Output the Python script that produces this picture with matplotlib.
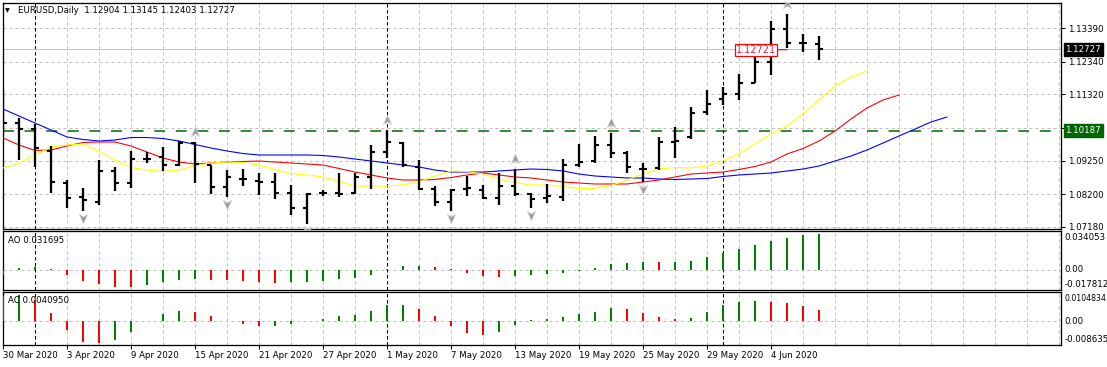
import numpy as np
import pandas as pd
import matplotlib
matplotlib.use("Agg")
import matplotlib.pyplot as plt
import matplotlib.transforms as mtransforms
from matplotlib.path import Path

W, H, DPI = 1107, 367, 100

# ---------------- data ----------------
symbol = "EURUSD,Daily"
dates = pd.bdate_range("2020-03-30", periods=52)

opens = [1.1052, 1.10426, 1.10238, 1.0955, 1.08548, 1.0811, 1.07953, 1.08924, 1.08548, 1.09299,
         1.09362, 1.09111, 1.098, 1.09111, 1.08423, 1.08673, 1.08611, 1.08579, 1.08235, 1.07766,
         1.08235, 1.08235, 1.08235, 1.08736, 1.09518, 1.098, 1.09049, 1.0836, 1.07953, 1.0836,
         1.08329, 1.08079, 1.08454, 1.08204, 1.08079, 1.0811, 1.09111, 1.09237, 1.09737, 1.09487,
         1.08986, 1.09018, 1.09831, 1.09988, 1.1077, 1.11177, 1.11334, 1.11678, 1.12335, 1.13368,
         1.1293, 1.12904]
highs = [1.11459, 1.10583, 1.10395, 1.09706, 1.08642, 1.08392, 1.09268, 1.09049, 1.0955, 1.09518,
         1.09675, 1.09863, 1.09831, 1.09111, 1.08955, 1.08986, 1.08861, 1.08861, 1.08485, 1.08235,
         1.08329, 1.08861, 1.08861, 1.09737, 1.10207, 1.09831, 1.09268, 1.08454, 1.0836, 1.08767,
         1.08485, 1.08861, 1.08986, 1.08235, 1.08517, 1.09299, 1.09769, 1.10019, 1.10113, 1.0955,
         1.09174, 1.09988, 1.10301, 1.10927, 1.11459, 1.11553, 1.1196, 1.12617, 1.13619, 1.13838,
         1.13212, 1.13145]
lows = [1.10113, 1.09268, 1.09049, 1.08235, 1.07766, 1.07672, 1.07859, 1.08298, 1.08392, 1.09174,
        1.08924, 1.0908, 1.08548, 1.08204, 1.0811, 1.08454, 1.08173, 1.08047, 1.07546, 1.07265,
        1.08141, 1.0811, 1.08204, 1.0836, 1.09331, 1.09049, 1.08329, 1.07828, 1.07672, 1.08141,
        1.08047, 1.07859, 1.08141, 1.07766, 1.07922, 1.07985, 1.09049, 1.09174, 1.09331, 1.08861,
        1.08579, 1.08955, 1.09331, 1.09925, 1.10676, 1.10989, 1.11146, 1.11678, 1.11928, 1.12774,
        1.12648, 1.12403]
closes = [1.10426, 1.10238, 1.09644, 1.08579, 1.08079, 1.08016, 1.08924, 1.08548, 1.09299, 1.09299,
          1.09111, 1.098, 1.09143, 1.08423, 1.08736, 1.08673, 1.08579, 1.08235, 1.07766, 1.08204,
          1.08235, 1.08204, 1.08736, 1.09518, 1.09831, 1.09111, 1.0836, 1.07953, 1.08329, 1.08392,
          1.08079, 1.08454, 1.08204, 1.08047, 1.08141, 1.09111, 1.09205, 1.09737, 1.09487, 1.09049,
          1.08986, 1.09831, 1.09863, 1.10739, 1.11021, 1.11334, 1.11678, 1.12335, 1.13368, 1.1293,
          1.1293, 1.12727]

# Alligator lines (extend into the future by their shift)
jaw_blue = [1.10864, 1.10645, 1.10426, 1.10207, 1.09988, 1.0991, 1.09863, 1.09894, 1.09972, 1.09972,
            1.09941, 1.09863, 1.09753, 1.09644, 1.0955, 1.09471, 1.09425, 1.09425, 1.09425, 1.09425,
            1.09409, 1.09362, 1.09299, 1.09237, 1.09174, 1.09112, 1.09049, 1.08955, 1.08892, 1.08892,
            1.08892, 1.08924, 1.08955, 1.08986, 1.08971, 1.08924, 1.0883, 1.08767, 1.08736, 1.08705,
            1.08705, 1.08673, 1.08658, 1.08673, 1.08689, 1.08752, 1.08799, 1.0883, 1.08861, 1.08924,
            1.08986, 1.0908, 1.09237, 1.09393, 1.09581, 1.098, 1.10019, 1.10238, 1.10457, 1.10614]
teeth_red = [1.09957, 1.09738, 1.09565, 1.09581, 1.09706, 1.09816, 1.09831, 1.09831, 1.09706, 1.09518,
             1.09331, 1.09205, 1.09143, 1.09174, 1.09205, 1.09221, 1.09237, 1.09205, 1.09174, 1.09143,
             1.09112, 1.09002, 1.08892, 1.08799, 1.08705, 1.08642, 1.08642, 1.08658, 1.0872, 1.08799,
             1.08861, 1.08799, 1.08736, 1.08705, 1.08642, 1.08579, 1.08548, 1.08517, 1.08517, 1.08517,
             1.08579, 1.08642, 1.08736, 1.0883, 1.08861, 1.08892, 1.08971, 1.09065, 1.09205, 1.09456,
             1.09628, 1.09863, 1.10176, 1.10551, 1.10896, 1.11146, 1.11303]
lips_yellow = [1.09018, 1.09158, 1.09425, 1.09675, 1.09738, 1.09769, 1.09534, 1.09268, 1.09033, 1.08955,
               1.08908, 1.08955, 1.09096, 1.09174, 1.09205, 1.0919, 1.09112, 1.08971, 1.08845, 1.08799,
               1.08736, 1.08595, 1.08454, 1.08454, 1.08454, 1.08486, 1.08579, 1.08767, 1.08924, 1.08908,
               1.0883, 1.08673, 1.08564, 1.08486, 1.08486, 1.08439, 1.08376, 1.08376, 1.0847, 1.08642,
               1.0883, 1.08986, 1.09033, 1.09018, 1.0908, 1.09237, 1.09471, 1.09769, 1.10082, 1.10332,
               1.10708, 1.11146, 1.11584, 1.11866, 1.12054]

ao = [-0.0045, 0.0012, 0.0027, 0.0008, -0.0047, -0.0104, -0.0127, -0.0155, -0.0158, -0.0136,
      -0.0113, -0.0092, -0.0086, -0.0088, -0.0095, -0.0104, -0.0112, -0.0116, -0.0113, -0.0111,
      -0.0103, -0.0083, -0.0075, -0.0047, 0.0005, 0.003, 0.0033, 0.002, 0.0003, -0.0033,
      -0.006, -0.0068, -0.006, -0.0047, -0.0042, -0.0033, -0.0015, 0.0012, 0.0047, 0.0056,
      0.0067, 0.0064, 0.0068, 0.0077, 0.011, 0.0145, 0.0181, 0.0216, 0.0252, 0.0278,
      0.0305, 0.031695]
ac = [0.0092, 0.0094, 0.0078, 0.003, -0.003, -0.0075, -0.0078, -0.0066, -0.0038, 0.0002,
      0.0025, 0.0037, 0.0032, 0.0019, 0.0002, -0.0008, -0.0017, -0.0015, -0.0008, 0.0001,
      0.0008, 0.0019, 0.0023, 0.0037, 0.0059, 0.006, 0.0046, 0.0019, -0.0017, -0.0042,
      -0.0048, -0.0038, -0.0014, 0.0005, 0.001, 0.0017, 0.0028, 0.0034, 0.0049, 0.0046,
      0.003, 0.0017, 0.001, 0.0013, 0.0034, 0.0059, 0.007, 0.0073, 0.007, 0.0066,
      0.0055, 0.004095]

fractal_up = [12, 24, 32, 38, 49]
fractal_down = [5, 14, 19, 28, 33, 40]

hline_level = 1.10187
bid = 1.12727
price_label_value = 1.12721
price_label_bar = 49

price_ticks = [1.13390, 1.12340, 1.11320, 1.10285, 1.09250, 1.08200, 1.07180]
price_tick_labels = ["1.13390", "1.12340", "1.11320", "", "1.09250", "1.08200", "1.07180"]
ao_scale = (-0.017812, 0.034053)
ac_scale = (-0.008635, 0.0104834)
ao_scale_labels = ["-0.017812", "0.034053"]
ac_scale_labels = ["-0.008635", "0.0104834"]

# ---------------- helpers ----------------
def px(p):
    return p * 72.0 / DPI

def rect(x0, y0, x1, y1):
    return [x0 / W, 1 - y1 / H, (x1 - x0) / W, (y1 - y0) / H]

FONT = "DejaVu Sans"
FS = 6.2
GREEN = "#008000"
RED = "#ff0000"
GRID = "#c0c0c0"

plt.rcParams["font.family"] = [FONT]

fig = plt.figure(figsize=(W / DPI, H / DPI), dpi=DPI, facecolor="white")
ax = fig.add_axes(rect(2.5, 2.5, 1061, 228.5))
ax_ao = fig.add_axes(rect(2.5, 231.3, 1061, 289.7), sharex=ax)
ax_ac = fig.add_axes(rect(2.5, 292.3, 1061, 345.3), sharex=ax)
axes = [ax, ax_ao, ax_ac]

n = len(opens)
idx = np.arange(n)
x_right = 66.125
ax.set_xlim(-0.031, x_right)
ax.set_ylim(1.07124, 1.14198)
ax_ao.set_ylim(*ao_scale)
ax_ac.set_ylim(*ac_scale)

for a in axes:
    for s in a.spines.values():
        s.set_linewidth(px(1.3))
        s.set_color("black")
    a.set_facecolor("white")
    # vertical grid every two bars
    for k in range(0, int(x_right) + 1, 2):
        a.axvline(k, color=GRID, lw=px(1), ls=(0, (3, 3)), zorder=0)
    # month separators
    for i in range(1, n):
        if dates[i].month != dates[i - 1].month:
            a.axvline(i, color="black", lw=px(1), ls=(0, (3.5, 2.5)), zorder=1)

# ---- main panel ----
for p in price_ticks:
    ax.axhline(p, color=GRID, lw=px(1), ls=(0, (3, 3)), zorder=0)
ax.axhline(bid, color="#c0c0c0", lw=px(1), zorder=1)
ax.axhline(hline_level, color="#006400", lw=px(1.5), ls=(0, (7.3, 7.1)), zorder=2)

ax.plot(np.arange(len(jaw_blue)), jaw_blue, color="#0000ff", lw=px(1.1), zorder=3)
ax.plot(np.arange(len(teeth_red)), teeth_red, color="#ff0000", lw=px(1.1), zorder=3)
ax.plot(np.arange(len(lips_yellow)), lips_yellow, color="#ffff00", lw=px(1.1), zorder=3)

ax.vlines(idx, lows, highs, color="black", lw=px(2.3), zorder=4, capstyle="butt")
ax.hlines(opens, idx - 0.27, idx, color="black", lw=px(2.1), zorder=4, capstyle="butt")
ax.hlines(closes, idx, idx + 0.27, color="black", lw=px(2.1), zorder=4, capstyle="butt")

up_path = Path([(0, 1), (0.8, -0.8), (0, -0.25), (-0.8, -0.8), (0, 1)],
               [Path.MOVETO, Path.LINETO, Path.LINETO, Path.LINETO, Path.CLOSEPOLY])
down_path = Path([(0, -1), (0.8, 0.8), (0, 0.25), (-0.8, 0.8), (0, -1)],
                 [Path.MOVETO, Path.LINETO, Path.LINETO, Path.LINETO, Path.CLOSEPOLY])
tr_up = mtransforms.offset_copy(ax.transData, fig=fig, x=0, y=10, units="dots")
tr_dn = mtransforms.offset_copy(ax.transData, fig=fig, x=0, y=-7, units="dots")
ax.plot(fractal_up, [highs[i] for i in fractal_up], ls="none", marker=up_path,
        ms=px(10), mfc="#9a9a9a", mec="#c8c8c8", mew=px(0.8), transform=tr_up, zorder=5)
ax.plot(fractal_down, [lows[i] for i in fractal_down], ls="none", marker=down_path,
        ms=px(10), mfc="#9a9a9a", mec="#c8c8c8", mew=px(0.8), transform=tr_dn, zorder=5)

# price label object
ax.annotate(f"{price_label_value:.5f}", xy=(price_label_bar, price_label_value),
            xytext=(-11, 0), textcoords="offset pixels", ha="right", va="center",
            fontsize=7, color="#e8203c", zorder=6,
            bbox=dict(boxstyle="square,pad=0.12", fc="white", ec="#ff0000", lw=px(1.2)),
            arrowprops=dict(arrowstyle="-", color="#ff0000", lw=px(1.2), shrinkA=0, shrinkB=0))

# right price scale
ax.yaxis.tick_right()
ax.set_yticks(price_ticks)
ax.set_yticklabels(price_tick_labels)
ax.tick_params(axis="y", direction="out", length=3, width=px(1), pad=px(3), labelsize=FS)
ax.tick_params(axis="x", length=0, labelbottom=False)

side = mtransforms.blended_transform_factory(ax.transAxes, ax.transData)
side_off = side + mtransforms.ScaledTranslation(4.5 / DPI, 0, fig.dpi_scale_trans)
ax.text(1.0, bid, f"{bid:.5f}", transform=side_off, ha="left", va="center", fontsize=FS,
        color="white", zorder=10, clip_on=False,
        bbox=dict(boxstyle="square,pad=0.22", fc="black", ec="black"))
ax.text(1.0, hline_level, f"{hline_level:.5f}", transform=side_off, ha="left", va="center",
        fontsize=FS, color="white", zorder=10, clip_on=False,
        bbox=dict(boxstyle="square,pad=0.22", fc="#006400", ec="#006400"))

# header
fig.text(5 / W, 1 - 10.5 / H, "\u25BC", fontsize=4.5, va="center", ha="left")
fig.text(18 / W, 1 - 10.5 / H,
         f"{symbol}  {opens[-1]:.5f} {highs[-1]:.5f} {lows[-1]:.5f} {closes[-1]:.5f}",
         fontsize=FS, va="center", ha="left")

# ---- indicator panels ----
def hist(a, vals, scale, scale_labels, title):
    cols = [GREEN] + [GREEN if vals[i] > vals[i - 1] else RED for i in range(1, len(vals))]
    a.axhline(0, color=GRID, lw=px(1), ls=(0, (3, 3)), zorder=0)
    a.bar(np.arange(len(vals)), vals, width=0.14, color=cols, zorder=3)
    a.set_yticks([])
    a.tick_params(axis="y", length=0)
    bt = mtransforms.blended_transform_factory(a.transAxes, a.transData)
    t_top = bt + mtransforms.ScaledTranslation(3.5 / DPI, -1.5 / DPI, fig.dpi_scale_trans)
    t_bot = bt + mtransforms.ScaledTranslation(3.5 / DPI, 1.0 / DPI, fig.dpi_scale_trans)
    t_mid = bt + mtransforms.ScaledTranslation(3.5 / DPI, 0, fig.dpi_scale_trans)
    top_fs = FS if len(scale_labels[1]) < 9 else 5.6
    a.text(1.0, scale[1], scale_labels[1], transform=t_top, ha="left", va="top",
           fontsize=top_fs, clip_on=False)
    a.text(1.0, scale[0], scale_labels[0], transform=t_bot, ha="left", va="bottom",
           fontsize=FS, clip_on=False)
    a.text(1.0, 0, "0.00", transform=t_mid, ha="left", va="center", fontsize=FS, clip_on=False)
    a.text(5 / (1061 - 2.5), 0.84, title, transform=a.transAxes, ha="left", va="center",
           fontsize=FS, zorder=6)

hist(ax_ao, ao, ao_scale, ao_scale_labels, f"AO {ao[-1]:.6f}")
hist(ax_ac, ac, ac_scale, ac_scale_labels, f"AC {ac[-1]:.7f}")
ax_ao.tick_params(axis="x", length=0, labelbottom=False)

tick_idx = idx[::4]
ax_ac.set_xticks(tick_idx)
ax_ac.set_xticklabels([f"{d.day} {d.strftime('%b %Y')}" for d in dates[::4]], ha="left")
ax_ac.tick_params(axis="x", direction="out", length=3, width=px(1), pad=px(1.5), labelsize=FS)

fig.savefig("out.png", dpi=DPI, facecolor="white")
